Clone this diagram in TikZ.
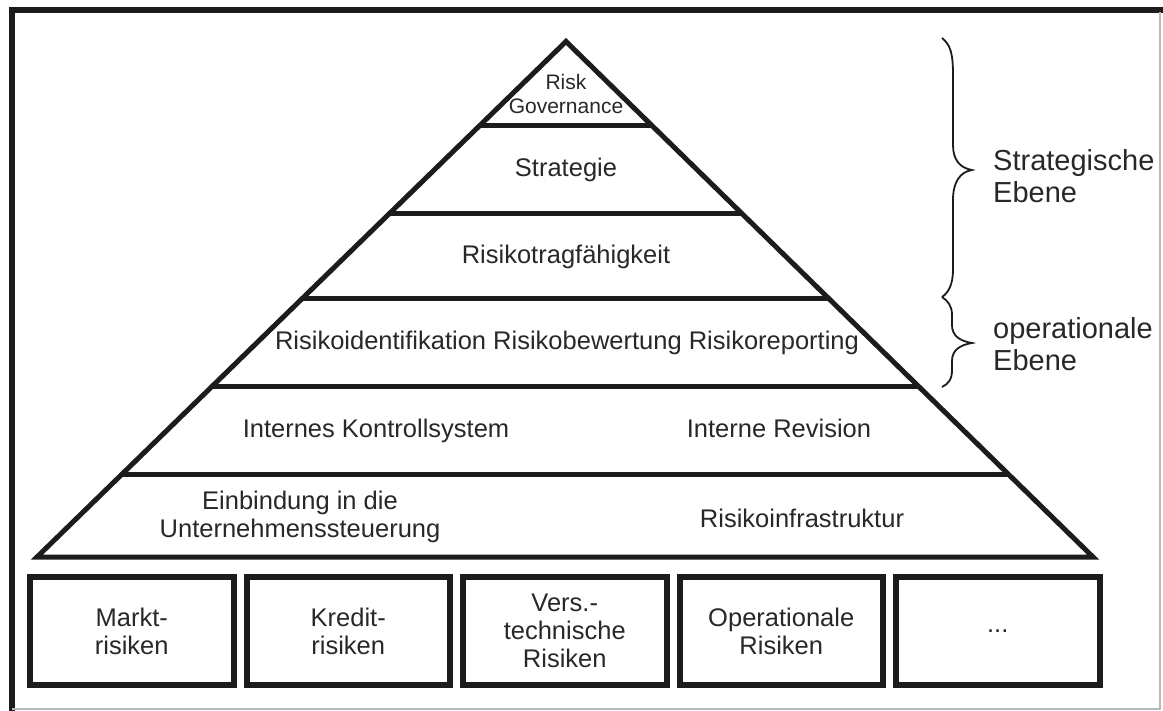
\documentclass[tikz,border=0pt]{standalone}
\usepackage{fontspec}
\setmainfont{Liberation Sans}
\usetikzlibrary{calc}
\definecolor{ink}{RGB}{28,28,28}
\definecolor{txt}{RGB}{40,40,40}
\begin{document}
\begin{tikzpicture}[x=1pt,y=-1pt,
  heavy/.style={draw=ink, line width=5pt},
  bracepath/.style={draw=ink, line width=1.8pt},
  lbl/.style={text=txt, font=\fontsize{25.5}{28}\selectfont, inner sep=0pt},
  biglbl/.style={text=txt, font=\fontsize{29}{32}\selectfont, inner sep=0pt, align=left, anchor=west},
  riskbox/.style={draw=ink, line width=6pt, minimum width=203.5pt, minimum height=108pt,
    inner sep=0pt, align=center, text=txt, font=\fontsize{25.5}{28}\selectfont}]
\useasboundingbox (0,0) rectangle (1163,711);
\fill[white] (0,0) rectangle (1163,711);
% frame
\draw[ink, line width=6pt] (12,711) -- (12,9.7) -- (1163,9.7);
\draw[gray!55, line width=1.2pt] (12,709) -- (1160,709) -- (1160,12);
% pyramid
\coordinate (apex) at (566,41.5);
\coordinate (bl) at (37,557);
\coordinate (br) at (1093,557);
\draw[heavy, line join=miter] (apex) -- (bl) -- (br) -- cycle;
\foreach \f [count=\i] in {0.1639,0.3327,0.4995,0.6693,0.8409}{
  \coordinate (L\i) at ($(apex)!\f!(bl)$);
  \coordinate (R\i) at ($(apex)!\f!(br)$);
  \draw[heavy] (L\i) -- (R\i);
}
% pyramid texts
\node[lbl, font=\fontsize{21}{24}\selectfont, align=center] (gov) at (566,93.5) {Risk\\Governance};
\node[lbl, anchor=base] (strat) at (566,177) {Strategie};
\node[lbl, anchor=base] (rtf) at (566,264) {Risikotragfähigkeit};
\node[lbl, anchor=base] (ops) at (567,350) {Risikoidentifikation Risikobewertung Risikoreporting};
\node[lbl, anchor=base] (iks) at (376,438) {Internes Kontrollsystem};
\node[lbl, anchor=base] (rev) at (779,438) {Interne Revision};
\node[lbl, align=center] (einb) at (300,516.5) {Einbindung in die\\Unternehmenssteuerung};
\node[lbl, anchor=base] (infra) at (802,527) {Risikoinfrastruktur};
% risk boxes
\node[riskbox] (b1) at (131.75,631) {Markt-\\risiken};
\node[riskbox] (b2) at (348.25,631) {Kredit-\\risiken};
\node[riskbox] (b3) at (564.75,631) {Vers.-\\technische\\Risiken};
\node[riskbox] (b4) at (781.25,631) {Operationale\\Risiken};
\node[riskbox] (b5) at (997.75,631) {...};
% braces
\coordinate (s1) at (942,38);
\coordinate (t1) at (972,170);
\coordinate (m) at (942,297);
\coordinate (t2) at (972,343);
\coordinate (e2) at (942,387);
\draw[bracepath] (s1) .. controls (951,45) and (953,55) .. (953,75) -- (953,145)
  .. controls (953,160) and (960,168) .. (t1)
  .. controls (960,172) and (953,182) .. (953,200) -- (953,270)
  .. controls (953,285) and (948,293) .. (m);
\draw[bracepath] (m) .. controls (948,301) and (952,306) .. (952,315) -- (952,325)
  .. controls (952,336) and (960,341) .. (t2)
  .. controls (960,345) and (952,350) .. (952,361) -- (952,370)
  .. controls (952,380) and (948,384) .. (e2);
\node[biglbl] (strl) at (993,176) {Strategische\\Ebene};
\node[biglbl] (opl) at (993,344) {operationale\\Ebene};
\end{tikzpicture}
\end{document}
